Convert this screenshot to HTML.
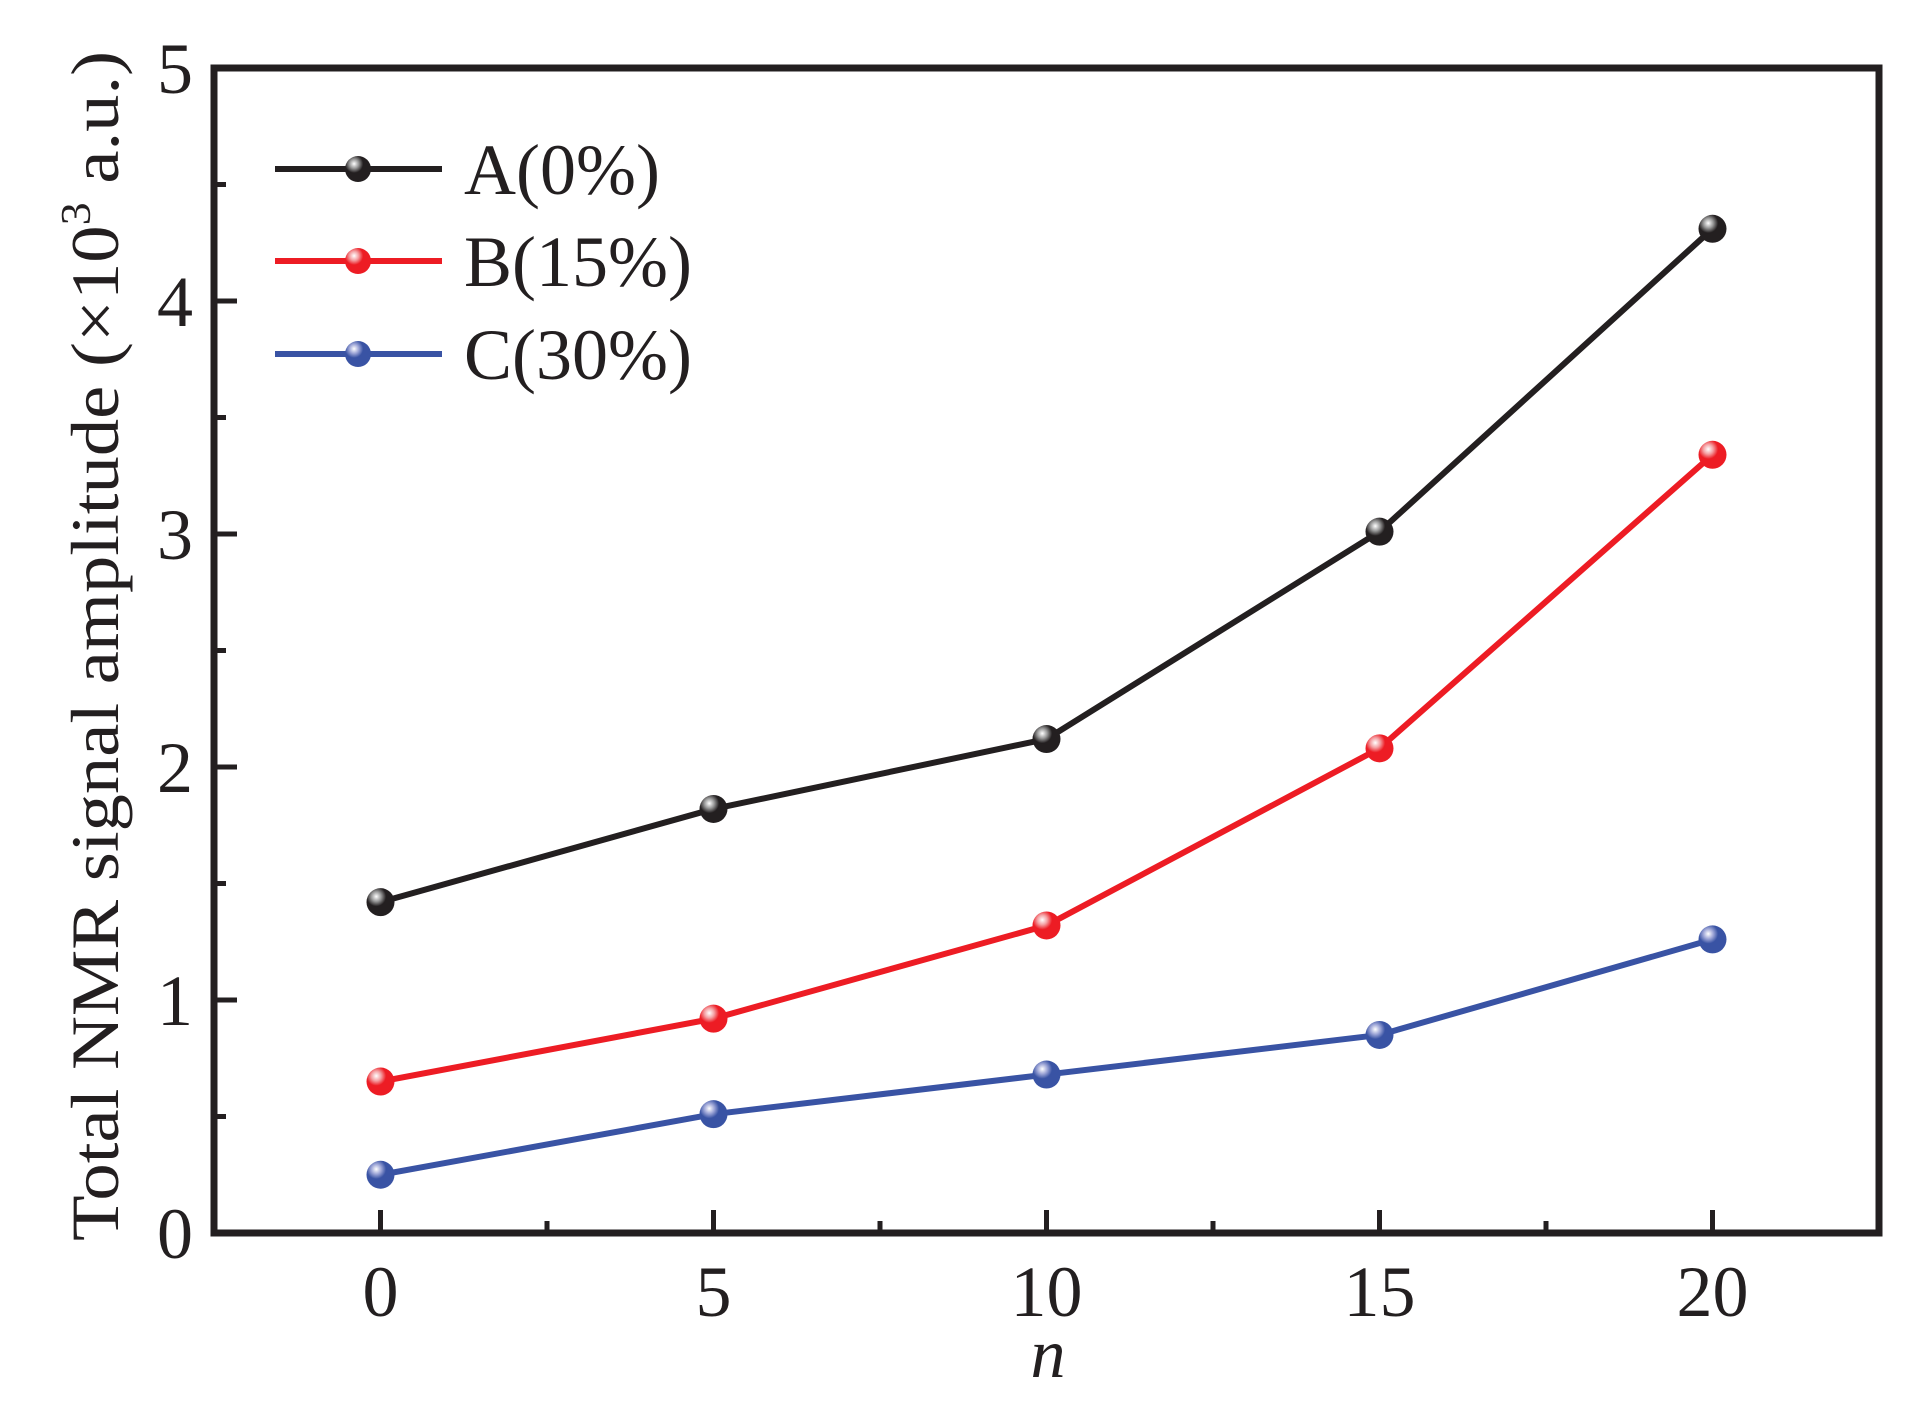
<!DOCTYPE html>
<html><head><meta charset="utf-8"><style>
html,body{margin:0;padding:0;background:#fff;}
svg{display:block;font-family:"Liberation Serif",serif;}
</style></head><body>
<svg id="chart" width="1916" height="1406" viewBox="0 0 1916 1406" xmlns="http://www.w3.org/2000/svg">
<defs>
<radialGradient id="gA" cx="0.35" cy="0.3" r="0.7"><stop offset="0" stop-color="#fff"/><stop offset="0.25" stop-color="#999"/><stop offset="0.5" stop-color="#231f20"/></radialGradient>
<radialGradient id="gB" cx="0.35" cy="0.3" r="0.7"><stop offset="0" stop-color="#fff"/><stop offset="0.25" stop-color="#f4a0a3"/><stop offset="0.5" stop-color="#ed1c24"/></radialGradient>
<radialGradient id="gC" cx="0.35" cy="0.3" r="0.7"><stop offset="0" stop-color="#fff"/><stop offset="0.25" stop-color="#a0a8d8"/><stop offset="0.5" stop-color="#3953a4"/></radialGradient>
</defs>
<g id="plot"></g>
<text transform="translate(118,646) rotate(-90)" text-anchor="middle" font-size="68" fill="#231f20" textLength="1190" lengthAdjust="spacingAndGlyphs">Total NMR signal amplitude (×10<tspan font-size="42" dy="-28">3</tspan><tspan dy="28"> a.u.)</tspan></text>
<text x="1048" y="1377" text-anchor="middle" font-size="70" font-style="italic" fill="#231f20">n</text>
</svg>
<script>
const categories = [0, 5, 10, 15, 20];
const seriesA = [1.42, 1.82, 2.12, 3.01, 4.31];
const seriesB = [0.65, 0.92, 1.32, 2.08, 3.34];
const seriesC = [0.25, 0.51, 0.68, 0.85, 1.26];
const seriesNames = ["A(0%)", "B(15%)", "C(30%)"];
const xTicks = [0, 5, 10, 15, 20];
const yTicks = [0, 1, 2, 3, 4, 5];

const L=214,R=1879,T=68,B=1233;
const xMin=-2.5,xMax=22.5,yMin=0,yMax=5;
const xs=v=>L+(v-xMin)/(xMax-xMin)*(R-L);
const ys=v=>B-(v-yMin)/(yMax-yMin)*(B-T);
const NS="http://www.w3.org/2000/svg";
const g=document.getElementById('plot');
function mk(tag,attrs,parent){const e=document.createElementNS(NS,tag);for(const k in attrs)e.setAttribute(k,attrs[k]);(parent||g).appendChild(e);return e;}
const ink="#231f20";

xTicks.forEach(t=>{
  const e=mk('line',{x1:xs(t),x2:xs(t),y1:B,y2:B-23,stroke:ink,'stroke-width':5});
  
  
  const l=mk('text',{x:xs(t),y:1316,'text-anchor':'middle','font-size':72,fill:ink});
  l.textContent=t;
  
  
});
for(let i=0;i<xTicks.length-1;i++){
  const m=(xTicks[i]+xTicks[i+1])/2;
  const e=mk('line',{x1:xs(m),x2:xs(m),y1:B,y2:B-12,stroke:ink,'stroke-width':5});
  
  
}
yTicks.forEach(t=>{
  const e=mk('line',{x1:L,x2:L+23,y1:ys(t),y2:ys(t),stroke:ink,'stroke-width':5});
  
  
  const l=mk('text',{x:193,y:ys(t)+25,'text-anchor':'end','font-size':72,fill:ink});
  l.textContent=t;
  
  
});
for(let i=0;i<yTicks.length-1;i++){
  const m=(yTicks[i]+yTicks[i+1])/2;
  const e=mk('line',{x1:L,x2:L+12,y1:ys(m),y2:ys(m),stroke:ink,'stroke-width':5});
  
  
}
const frame=mk('rect',{x:L,y:T,width:R-L,height:B-T,fill:'none',stroke:ink,'stroke-width':7});



const series=[[seriesA,'#231f20','url(#gA)','series-a'],[seriesB,'#ed1c24','url(#gB)','series-b'],[seriesC,'#3953a4','url(#gC)','series-c']];
series.forEach(([vals,col,grad,name])=>{
  const pl=mk('polyline',{points:vals.map((v,i)=>xs(categories[i])+','+ys(v)).join(' '),fill:'none',stroke:col,'stroke-width':6,'stroke-linejoin':'round'});
  
  
  vals.forEach((v,i)=>{
    const c=mk('circle',{cx:xs(categories[i]),cy:ys(v),r:14,fill:grad});
    
    
  });
});

const legY=[169,261,354];
series.forEach(([vals,col,grad,name],i)=>{
  const y=legY[i];
  const ln=mk('line',{x1:275,x2:442,y1:y,y2:y,stroke:col,'stroke-width':6});
  
  
  const c=mk('circle',{cx:358,cy:y,r:13,fill:grad});
  
  
  const t=mk('text',{x:464,y:y+25,'font-size':72,fill:ink});
  t.textContent=seriesNames[i];
  
  
});
</script>
</body></html>
